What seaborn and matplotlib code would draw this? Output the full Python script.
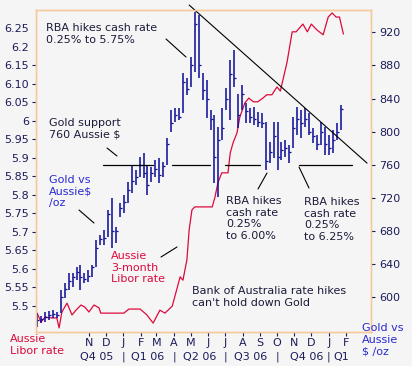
import matplotlib
matplotlib.use("Agg")
import matplotlib.pyplot as plt
from matplotlib.lines import Line2D
import pandas as pd
import seaborn as sns

# weekly gold bars, Aussie $ per oz (high / low / close)
gold_week_start = "2005-08-01"
gold_high = [581, 577, 582, 583, 585, 582, 609, 617, 629, 629, 637, 639, 629, 633, 639, 669,
             675, 681, 705, 720, 685, 714, 724, 739, 760, 754, 770, 774, 760, 757, 766, 768,
             763, 792, 826, 829, 829, 871, 865, 890, 944, 941, 871, 862, 826, 820, 806, 829,
             853, 887, 899, 845, 856, 835, 829, 830, 824, 822, 812, 788, 812, 812, 788, 790,
             784, 818, 830, 826, 829, 822, 805, 796, 812, 806, 796, 802, 810, 832]
gold_low = [564, 569, 570, 572, 575, 575, 581, 599, 609, 612, 621, 609, 617, 618, 625, 637,
            663, 663, 673, 660, 666, 697, 702, 714, 726, 736, 745, 744, 724, 739, 745, 738,
            745, 760, 800, 812, 814, 823, 844, 854, 872, 865, 838, 816, 802, 738, 721, 790,
            826, 814, 854, 805, 826, 811, 811, 808, 806, 804, 754, 762, 768, 754, 766, 769,
            762, 780, 796, 792, 806, 796, 786, 778, 784, 772, 772, 774, 790, 802]
gold_close = [572, 574, 576, 578, 580, 579, 600, 610, 620, 624, 630, 625, 622, 626, 636, 660,
              670, 672, 700, 680, 680, 708, 715, 730, 740, 745, 760, 750, 735, 750, 755, 748,
              758, 785, 810, 820, 818, 860, 852, 880, 930, 880, 850, 840, 815, 770, 790, 805,
              840, 870, 865, 820, 845, 825, 818, 815, 812, 810, 765, 775, 795, 770, 778, 780,
              775, 805, 815, 810, 815, 800, 795, 785, 800, 785, 780, 790, 800, 828]

# Aussie 3-month Libor rate, %
libor_dates = ["2005-08-01", "2005-08-08", "2005-08-15", "2005-08-27", "2005-09-05", "2005-09-09",
               "2005-09-14", "2005-09-23", "2005-10-02", "2005-10-09", "2005-10-18", "2005-10-25",
               "2005-11-01", "2005-11-10", "2005-11-19", "2005-11-22", "2006-01-02", "2006-01-11",
               "2006-01-31", "2006-02-12", "2006-02-23", "2006-03-07", "2006-03-16", "2006-03-29",
               "2006-04-12", "2006-04-17", "2006-04-24", "2006-04-28", "2006-05-03", "2006-05-08",
               "2006-06-08", "2006-06-13", "2006-06-18", "2006-06-25", "2006-07-06", "2006-07-10",
               "2006-07-15", "2006-07-22", "2006-07-27", "2006-08-05", "2006-08-12", "2006-08-20",
               "2006-08-28", "2006-09-06", "2006-09-13", "2006-09-22", "2006-10-01", "2006-10-07",
               "2006-10-19", "2006-10-28", "2006-11-04", "2006-11-16", "2006-11-24", "2006-12-01",
               "2006-12-11", "2006-12-22", "2006-12-31", "2007-01-07", "2007-01-14", "2007-01-20",
               "2007-01-27"]
libor_rate = [5.480, 5.456, 5.469, 5.467, 5.467, 5.440, 5.483, 5.507, 5.475, 5.488, 5.502, 5.496,
              5.483, 5.502, 5.494, 5.480, 5.480, 5.491, 5.491, 5.475, 5.453, 5.488, 5.480, 5.499,
              5.578, 5.569, 5.624, 5.705, 5.759, 5.767, 5.767, 5.794, 5.832, 5.859, 5.859, 5.913,
              5.940, 5.967, 6.010, 6.048, 6.061, 6.051, 6.051, 6.061, 6.070, 6.070, 6.091, 6.080,
              6.159, 6.240, 6.240, 6.261, 6.240, 6.261, 6.245, 6.232, 6.280, 6.291, 6.280, 6.280,
              6.234]

support_level = 760
support_segments = [("2005-11-26", "2006-02-23"), ("2006-03-29", "2006-06-04"),
                    ("2006-07-01", "2006-09-01"), ("2006-11-10", "2007-02-12")]
trend_dates = ["2006-04-28", "2007-03-10"]
trend_gold = [953, 762]

month_ticks = pd.date_range("2005-11-01", "2007-02-01", freq="MS")
quarter_labels = ["Q4 05", "Q1 06", "Q2 06", "Q3 06", "Q4 06", "Q1"]
quarter_centers = ["2005-11-14", "2006-02-14", "2006-05-16", "2006-08-15", "2006-11-22", "2007-01-23"]
quarter_breaks = ["2006-01-01", "2006-04-01", "2006-07-01", "2006-10-01", "2007-01-01"]

left_ticks = [6.25, 6.2, 6.15, 6.10, 6.05, 6.0, 5.95, 5.9, 5.85, 5.8, 5.75, 5.7, 5.65, 5.6, 5.55, 5.5]
left_labels = ["6.25", "6.2", "6.15", "6.10", "6.05", "6", "5.95", "5.9", "5.85", "5.8",
               "5.75", "5.7", "5.65", "5.6", "5.55", "5.5"]
right_ticks = [600, 640, 680, 720, 760, 800, 840, 880, 920]

BG = "#f5f5f5"
FRAME = "#f7c99a"
NAVY = "#1c1c5a"
BAR = "#0a0a96"
RED = "#dc0a3c"
BLUE_TXT = "#2a2ad0"
TXT = "#1b1b3a"

sns.set_style("white")
plt.rcParams["font.family"] = ["DejaVu Sans"]
plt.rcParams["font.size"] = 8

W, H = 412, 366
fig = plt.figure(figsize=(W / 100, H / 100), dpi=100, facecolor=BG)
ax = fig.add_axes([36 / W, 34 / H, 335 / W, 322 / H])
ax.set_facecolor(BG)

libor_df = pd.DataFrame({"date": pd.to_datetime(libor_dates), "rate": libor_rate})
sns.lineplot(data=libor_df, x="date", y="rate", ax=ax, color=RED, lw=0.9)

ax2 = ax.twinx()
weeks = pd.date_range(gold_week_start, periods=len(gold_high), freq="7D")
ax2.vlines(weeks, gold_low, gold_high, color=BAR, lw=1.1)
ax2.hlines(gold_close, weeks, weeks + pd.Timedelta(days=3.5), color=BAR, lw=0.9)

for a, b in support_segments:
    ax2.plot([pd.Timestamp(a), pd.Timestamp(b)], [support_level, support_level], color="black", lw=0.9)
ax2.plot(pd.to_datetime(trend_dates), trend_gold, color="black", lw=0.8, clip_on=False)

ax.set_xlim(pd.Timestamp("2005-07-30"), pd.Timestamp("2007-03-17"))
ax.set_ylim(5.429, 6.299)
ax2.set_ylim(558, 947)
ax.set_xlabel("")
ax.set_ylabel("")

ax.set_yticks(left_ticks)
ax.set_yticklabels(left_labels)
ax.tick_params(axis="y", left=True, length=3, width=0.8, pad=2, color=NAVY, labelcolor=NAVY, labelsize=8)
for t in ax.yaxis.get_major_ticks()[:2]:
    t.tick1line.set_visible(False)
ax2.set_yticks(right_ticks)
ax2.tick_params(axis="y", right=True, length=3, width=0.8, pad=3, color=NAVY, labelcolor=NAVY, labelsize=8)

ax.set_xticks(month_ticks)
ax.set_xticklabels([d.strftime("%b")[0] for d in month_ticks])
ax.tick_params(axis="x", bottom=True, length=3, width=0.8, pad=1.5, color=NAVY, labelcolor=NAVY, labelsize=8)

for a in (ax, ax2):
    for s in a.spines.values():
        s.set_color(FRAME)
        s.set_linewidth(1.0)

qy = -25 / 322
for lab, d in zip(quarter_labels, quarter_centers):
    ax.text(pd.Timestamp(d), qy, lab, transform=ax.get_xaxis_transform(), ha="center", va="center",
            color=NAVY, fontsize=8)
for d in quarter_breaks:
    ax.text(pd.Timestamp(d), qy, "|", transform=ax.get_xaxis_transform(), ha="center", va="center",
            color=NAVY, fontsize=8)


def ftext(x, y, s, color=TXT):
    fig.text(x / W, 1 - y / H, s, color=color, fontsize=8, ha="left", va="top", linespacing=1.2)


def leader(x1, y1, x2, y2):
    fig.add_artist(Line2D([x1 / W, x2 / W], [1 - y1 / H, 1 - y2 / H], color="black", lw=0.8,
                          transform=fig.transFigure))


ftext(46, 23, "RBA hikes cash rate\n0.25% to 5.75%")
ftext(49, 118, "Gold support\n760 Aussie $")
ftext(49, 175, "Gold vs\nAussie$\n/oz", BLUE_TXT)
ftext(111, 251, "Aussie\n3-month\nLibor rate", RED)
ftext(226, 196, "RBA hikes\ncash rate\n0.25%\nto 6.00%")
ftext(304, 197, "RBA hikes\ncash rate\n0.25%\nto 6.25%")
ftext(192, 286, "Bank of Australia rate hikes\ncan't hold down Gold")
ftext(10, 334, "Aussie\nLibor rate", RED)
ftext(362, 323, "Gold vs\nAussie\n$ /oz", BLUE_TXT)

leader(166, 39, 186, 57)
leader(107, 148, 117, 156)
leader(79, 210, 94, 223)
leader(161, 257, 177, 247)
leader(258, 189, 267, 173)
leader(299, 167, 309, 188)

fig.savefig("out.png", dpi=100, facecolor=BG)
